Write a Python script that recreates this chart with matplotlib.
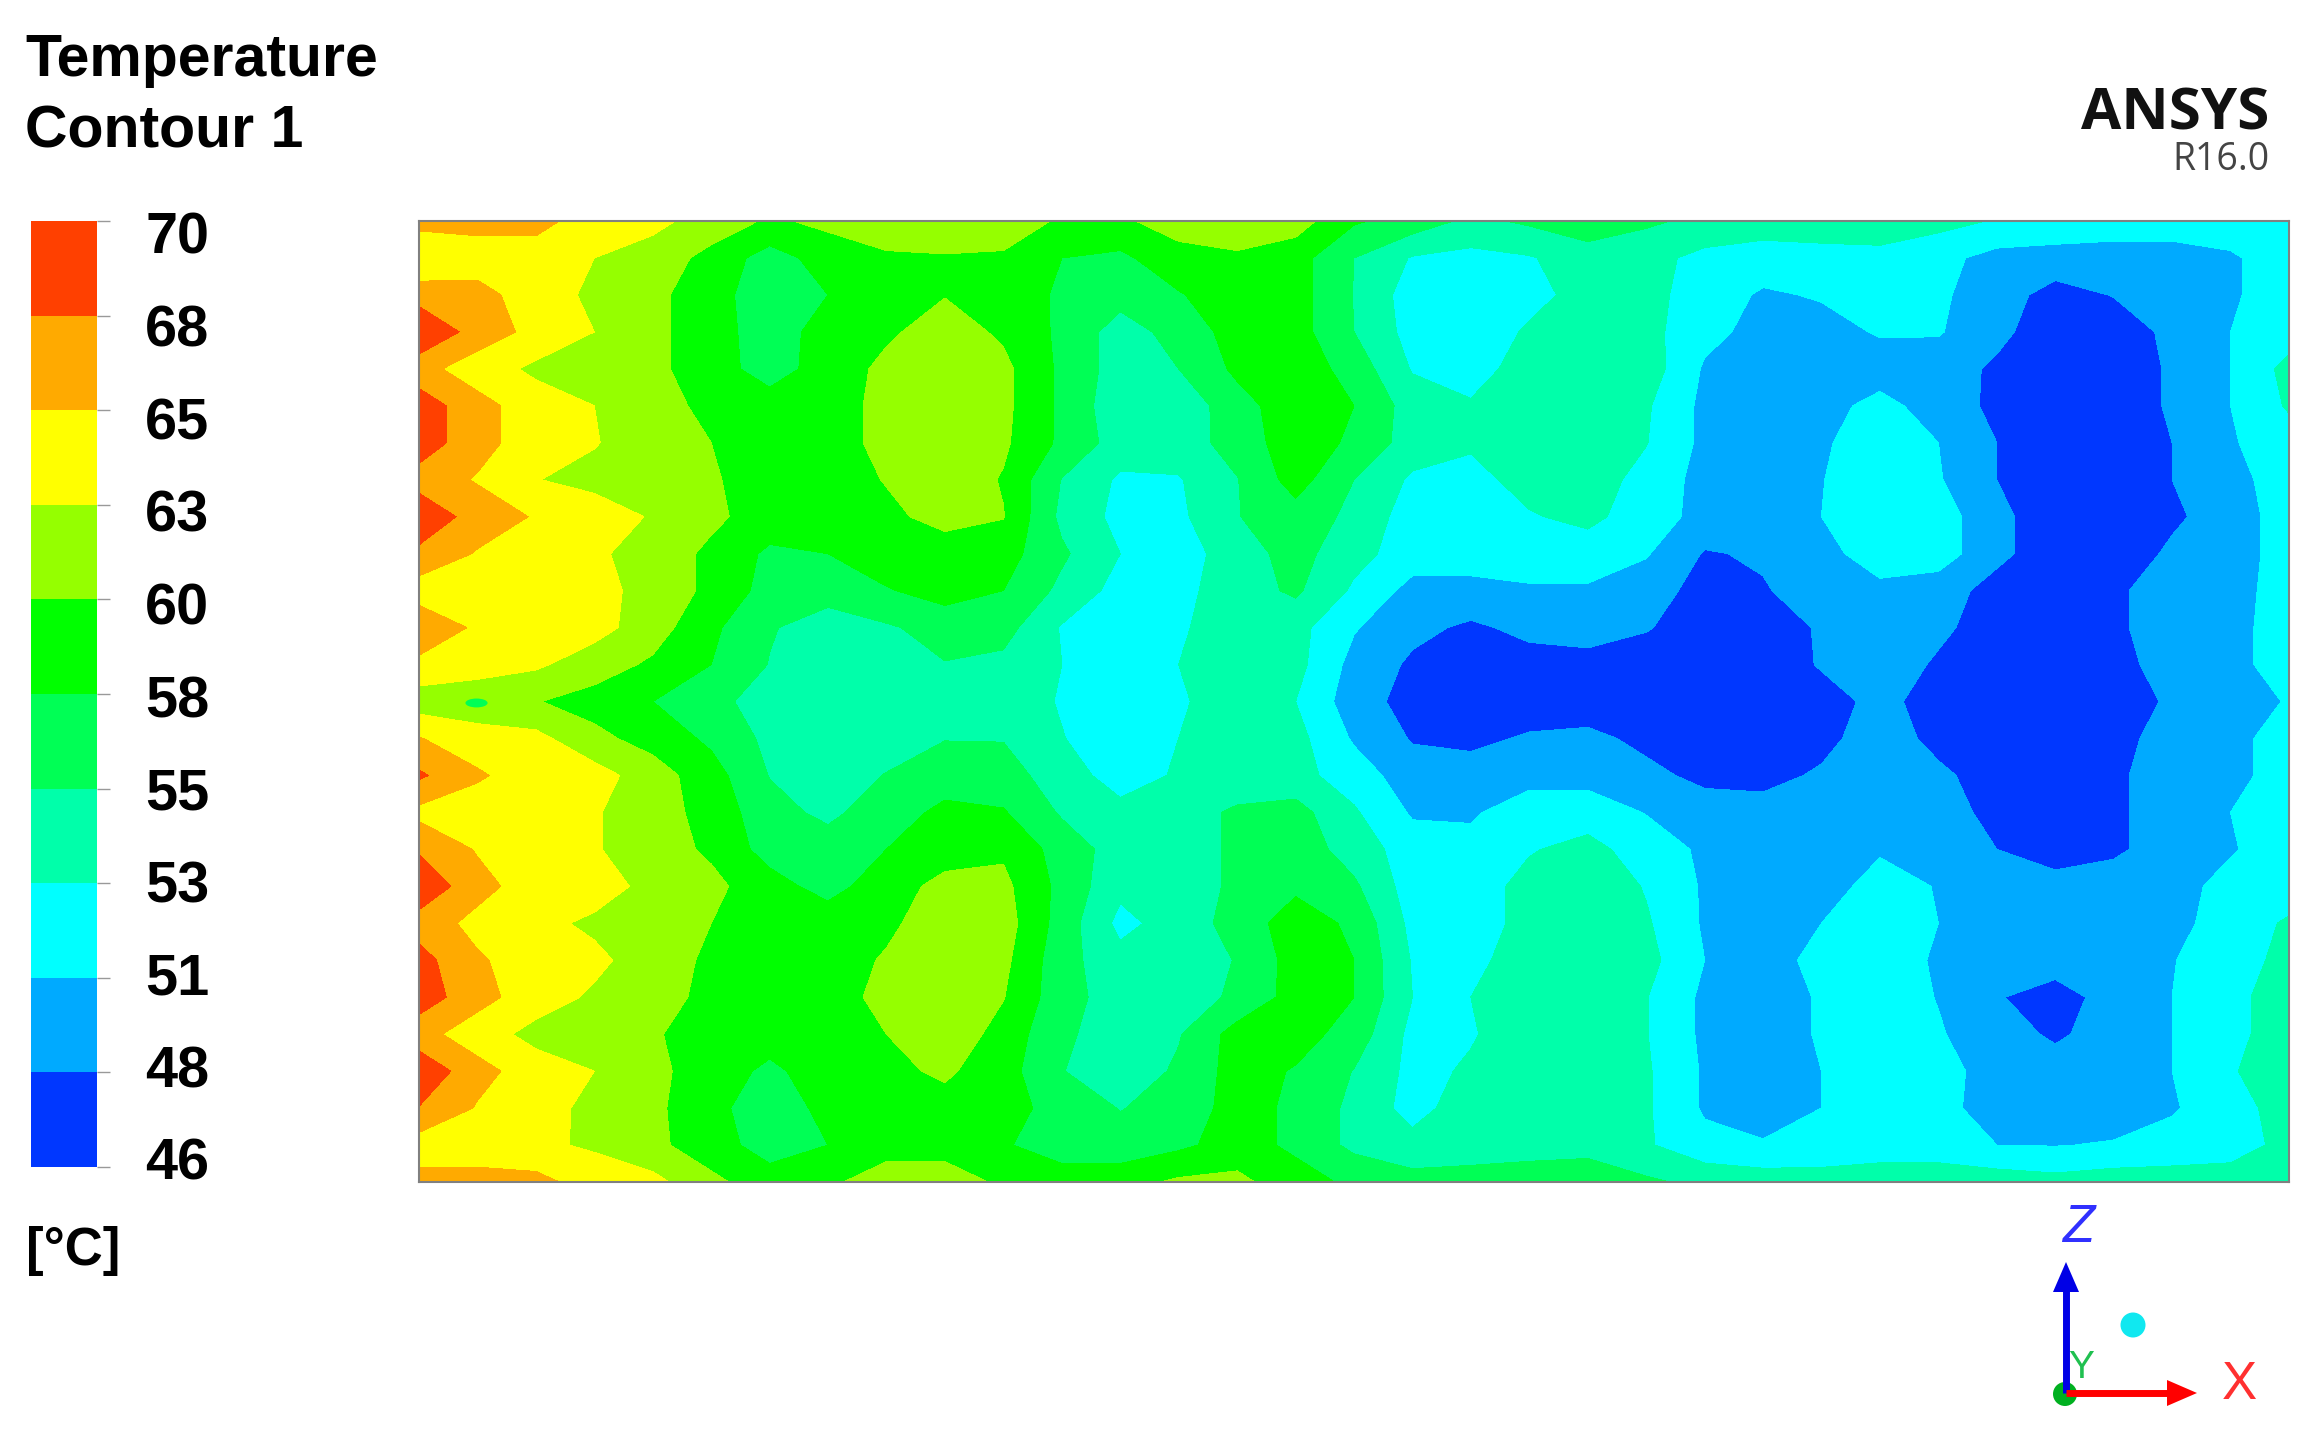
import matplotlib
matplotlib.use('Agg')
import matplotlib.pyplot as plt
from matplotlib.colors import ListedColormap, BoundaryNorm
from matplotlib.patches import Circle, Ellipse, Polygon
import numpy as np

W, H = 2313, 1436

tick_labels = ['70', '68', '65', '63', '60', '58', '55', '53', '51', '48', '46']
levels = [46, 48.4, 50.8, 53.2, 55.6, 58, 60.4, 62.8, 65.2, 67.6, 70]
band_colors = ['#0037ff', '#00aaff', '#00ffff', '#00ffaa', '#00ff55',
               '#00ff00', '#95ff00', '#ffff00', '#ffaa00', '#ff4000']

# temperature, top row first, left to right
temperature = [
 [66,66,66,64,63.3,62,60,61,62,62,62,60,60,61.5,62,61.5,58.3,57,55,56,57,56,55,54.5,55,55.5,54,53,52.5,52,52,52,52],
 [63,64,64,62.8,62,59.5,57,59,60,60.2,60,58,57.5,59.5,60,59,55.6,53,52.5,53,54.5,54,52.5,52,52,52,51.5,50,49.8,49.8,49.8,50.5,52],
 [66.5,66,64,62.3,61,59,56.5,58,59.5,60.3,59.8,57.5,56.5,57.8,59.5,59,55.5,52,52,52.5,54,54,52,50.5,51,51.5,51.2,49.5,47.5,48.5,49.5,50.5,52],
 [70,66.5,64.5,62.8,61,59,56.8,59,60,61.5,60,57.5,54.5,56.5,59,59,55.6,52.3,51.8,53.5,54.5,54,51.5,50,50,51,51,49,47,47,49,50.8,52],
 [66,64,62.3,60.8,61,59,57,59,61,62,61,57.5,54.5,55.6,58.5,59.5,57,53,52,54.5,55,54.5,50.5,49.8,50,49.7,49.5,48,47,47,48.7,50.8,54],
 [69,66,64,62.8,61,60,59,59.5,61,62,61,57.5,54,54,57,59.5,58,54.5,53.5,55,55,53.5,50.2,49.8,50,51.5,49.8,47.8,47,47,48.7,50.8,53.5],
 [69,66,64,63,61,60.4,59,59.5,61,62,60.8,57.5,54.5,54.5,56.5,59.5,57.5,54.5,53.5,55,55,53.3,50.2,49.8,50.5,52,50.8,48.4,47,47,48.4,50.6,52],
 [66.5,65,62.9,61.8,61.5,60.6,59.5,59.5,60.5,62,60.2,55.5,52.8,53,55.5,59,55.6,52.8,52.5,54,54.5,52.3,50,49.5,50.7,52.5,51,48.4,47,47,48.4,50,52],
 [69.5,66.5,65,64.5,62.5,60.8,59.5,59.5,60,61,60.5,55,52.5,52.7,55.5,57,55,52,52,53,53.8,52,50,49.3,50.8,52,52,49,47,47,48,49.5,52],
 [67,65,64,63.3,61.5,60,57.5,58,59.5,59.5,59,56,53.2,52,54.5,56.5,54,52,52,52,52,51,48.2,48.7,50,52,52,49,47,47,48.8,49.5,52],
 [64,64,64,64,61.5,60,57,56.5,57.8,59,58,55,52.3,52.5,54.5,56,52.8,50,50,50.5,50.5,49.5,47.5,48.2,49.5,50.2,49.5,47.5,47,48,49.5,49.8,52],
 [67,64.8,64,63.7,61.5,58.5,55.8,54.5,55.3,56.5,56.5,53,52,53,54,54,51,49,48,49,49.5,48.6,47,47,48.7,49.5,49,47,47,48,49.5,50,52],
 [64.6,64,63.2,61.5,60,58,55.5,54.5,54.5,55.5,55,53.2,51.5,53.2,54,54,50,48,47.5,47.5,47.5,47,47,47,48.6,50,48,47,47,47.5,49.5,50,52],
 [61.5,61,60.5,59.5,58,56,55,55,54.5,54.5,54.5,53,51.5,53,54,53.2,49.5,47.5,47,47,47,47,47,47,47.5,49,47.5,47,47,47,48.8,49.5,51],
 [65.3,64,63.5,61,59.5,57.5,55,54.5,54.5,55.5,55.5,53.3,51.8,53.2,54,54,50.5,48.2,47.8,48.7,49,47.8,47,47,47.5,50,47.5,47,47,47.5,49.5,50,52],
 [68,65.5,64,63.8,61.5,59,55.5,54.5,55.7,57,56.5,54.5,52,53.5,54,54,52,49.5,49.5,50,50,49,47.8,47.5,48.8,49.5,49,47,47,48,49.5,50,52],
 [64.5,64,64,63,61.5,59.5,56.5,55,57,58.5,58.2,55.3,54,54.5,56,56.5,53.5,50.5,50.5,52,52,50.7,49.5,49.5,50,50.2,49.7,47.5,47,48,49.5,50.8,52],
 [67.3,65,64,63,61.5,60,57,56.8,58,59.5,60,57,54.5,54.5,56,57,54.5,52,51.5,53,54,52,50.4,49.8,50,50.6,50,48.4,47,48,49.5,50.6,52],
 [69.5,66,64,64,62,61,59,57,59.5,61,61,57.3,53.8,54.5,56,57.5,56,52,52,54,55,53,50.5,50,50,51.5,50.7,49.5,49.5,49.5,50,51.5,52],
 [66.5,64.5,63.5,62.3,61.5,60.4,59.5,59.5,60,61.5,61.5,57,52.5,54.3,56.5,59.3,57.5,52.5,52,54,55,53.5,50.5,49.8,50.8,52,50.8,49,49,49.5,50,52,53.5],
 [68.5,65.5,64,63.4,61.5,60,59,59.5,60.6,62,61,56.5,54,54.5,55.7,59,58,53,52.5,54.5,55,54,50.8,49.8,51.5,52,50.5,49.5,49.7,49.7,50.7,52,54],
 [69,66,64,62.4,61,60,59,59.5,61,62,60.5,56.5,54.5,54.5,56,59,58,53.2,53.2,55,55,53.3,50.3,49.8,51,52,50.7,48.6,47.2,49.5,50.8,52.5,54.5],
 [66,64,62,60.8,60.6,59.5,59,59.5,60.4,62,59.5,56,54.5,55.4,59,59,57,52.5,53,54.5,55,53.3,50.3,49.8,51,52,51,49.5,48,49.5,50.8,52.5,54.5],
 [69.5,66,64,62.8,61,59.2,57.5,59.2,59.8,60.8,59,55.7,54,56,59,57.8,55.5,52.5,53.5,54.5,55,53.5,50.5,49.8,50.8,52,51.5,50,49.5,49.5,50.8,53,54.5],
 [67.5,65,64,62,61,58.5,57,58.5,59.5,59.5,59,57,55.5,56.5,59,57.5,55,52.3,54.5,55,55,53.5,50.5,49.8,50.8,52,51.5,49.8,49.5,49.5,50.6,52,54.5],
 [64,64,63.2,62.5,61,59,57,58,59.5,59.5,58.2,57,56.5,57.5,59,57.5,55,54,54.5,54.5,54.8,53.5,51.5,51,51.2,52,52,50.8,50.7,51,51.5,52,54],
 [66,66,66,64,63.5,61,59,60,61.5,61.5,60,59,59.5,60.8,61,59,57.5,56.5,56.5,57,57,56,55,54.5,54.5,54.5,54.5,54.5,54,54.5,54.5,54.5,54.5],
]

temperature = np.array(temperature)
x_cols = np.linspace(0, 1268, temperature.shape[1])
y_rows = np.linspace(0, 650, temperature.shape[0])

def box(l, t, r, b):
    return [l / W, 1 - b / H, (r - l) / W, (b - t) / H]

fig = plt.figure(figsize=(W / 100, H / 100), dpi=100, facecolor='white')

# page axes in pixels, for text and the triad
page = fig.add_axes([0, 0, 1, 1])
page.set_xlim(0, W)
page.set_ylim(H, 0)
page.axis('off')

cmap = ListedColormap(band_colors)
norm = BoundaryNorm(levels, cmap.N)

# contour plot
ax = fig.add_axes(box(419, 221, 2289, 1182))
ax.contourf(x_cols, y_rows, temperature, levels=levels, cmap=cmap, norm=norm)
ax.add_patch(Ellipse((39, 326), 15, 6, color='#00ff55', lw=0))
ax.set_xlim(0, 1268)
ax.set_ylim(650, 0)
ax.set_xticks([])
ax.set_yticks([])
for s in ax.spines.values():
    s.set_color('#808080')
    s.set_linewidth(1.5)

# colour legend
cax = fig.add_axes(box(31, 221, 97, 1167))
cax.pcolormesh([0, 1], np.arange(len(levels)), np.arange(len(band_colors)).reshape(-1, 1),
               cmap=cmap, vmin=0, vmax=len(band_colors))
cax.set_xticks([])
cax.yaxis.tick_right()
cax.set_yticks(np.arange(len(levels)))
cax.set_yticklabels([])
cax.tick_params(axis='y', length=9.5, width=1, color='#999999')
cax.set_ylim(0, len(band_colors))
for s in cax.spines.values():
    s.set_visible(False)

bold = dict(family='Liberation Sans', weight='bold', color='black')
page.text(25, 76, 'Temperature', fontsize=42.5, va='baseline', **bold)
page.text(25, 147, 'Contour 1', fontsize=42.5, va='baseline', **bold)
page.text(26, 1265, '[°C]', fontsize=38, va='baseline', **bold)
label_y = np.linspace(233, 1159, len(tick_labels))
for lab, y in zip(tick_labels, label_y):
    page.text(209, y, lab, fontsize=41.5, ha='right', va='center_baseline', **bold)

# logo
page.text(2269, 129, 'ANSYS', fontsize=42, family='Open Sans', weight='bold',
          ha='right', va='baseline', color='#111111')
page.text(2270, 170, 'R16.0', fontsize=27, family='Open Sans', weight='normal',
          ha='right', va='baseline', color='#444444')

# axis triad
page.add_patch(Circle((2065, 1394), 12, color='#00b020', lw=0))
page.plot([2066, 2066], [1393, 1290], color='#0000e6', lw=5, solid_capstyle='butt')
page.add_patch(Polygon([[2066, 1262], [2053, 1292], [2079, 1292]], color='#0000e6', lw=0))
page.plot([2066, 2170], [1393, 1393], color='#ff0000', lw=5, solid_capstyle='butt')
page.add_patch(Polygon([[2197, 1393], [2167, 1380], [2167, 1406]], color='#ff0000', lw=0))
page.add_patch(Circle((2133, 1325), 12.5, color='#10e8f0', lw=0))
thin = dict(family='Liberation Sans', ha='center', va='center')
page.text(2078, 1228, 'Z', fontsize=38, color='#3030ff', style='italic', **thin)
page.text(2081, 1368, 'Y', fontsize=28, color='#20c050', **thin)
page.text(2239, 1385, 'X', fontsize=38, color='#ff3030', **thin)

fig.savefig('out.png', dpi=100)
